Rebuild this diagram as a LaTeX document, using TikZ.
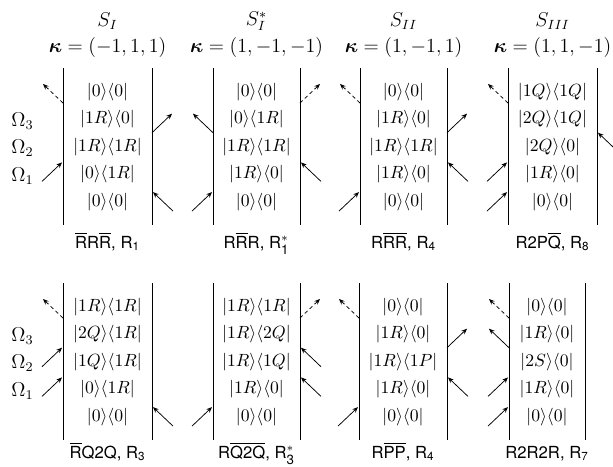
\documentclass[tikz,border=0pt]{standalone}
\usepackage{amsmath}
\usepackage{fontspec}
\newfontfamily\etiqfont{TeX Gyre Heros}
\usetikzlibrary{arrows.meta, calc}

\newcommand{\kb}[2]{|#1\rangle\langle #2|}
\newcommand{\barra}[1]{$\overline{\hbox{#1}}$}
\newcommand{\niveles}[6]{%
  \foreach \s [count=\i] in {#2,#3,#4,#5,#6}
    \node[estado] (#1s\i) at ($(l#1)!0.5!(r#1)+(0,-3.5+27.5*\i)$) {$\s$};}

\begin{document}
\begin{tikzpicture}[
    x=0.6pt, y=-0.6pt,
    estado/.style={inner sep=0pt, scale=1.06},
    titulo/.style={font=\large, inner sep=0pt},
    etiq/.style={font=\normalsize\etiqfont, inner sep=0pt, anchor=base},
    pared/.style={line width=0.5pt},
    bomba/.style={-{Stealth[length=3.4pt, width=2.8pt]}, line width=0.45pt},
    fuga/.style={bomba, dash pattern=on 2.2pt off 1.8pt}
  ]
  \useasboundingbox (0,0) rectangle (613,466);

  % --- Paredes ---
  \foreach \p/\xl/\xr/\yo in {t1/63/152/0, t2/213/300/0, t3/360/447/0, t4/508/597/0,
                             b1/63/152/215, b2/213/300/215, b3/359/447/215, b4/509/585/215} {
    \coordinate (l\p) at (\xl,68+\yo);
    \coordinate (r\p) at (\xr,68+\yo);
    \draw[pared] (l\p) -- ++(0,157);
    \draw[pared] (r\p) -- ++(0,157);
  }

  % --- Titulos ---
  \foreach \p/\s/\k in {t1/S_I/{(-1,1,1)}, t2/S_I^*/{(1,-1,-1)},
                        t3/S_{II}/{(1,-1,1)}, t4/S_{III}/{(1,1,-1)}} {
    \node[titulo] (s\p) at ($(l\p)!0.5!(r\p)+(0,-47)$) {$\s$};
    \node[titulo] (k\p) at ($(l\p)!0.5!(r\p)+(0,-21)$) {$\boldsymbol{\kappa}=\k$};
  }

  % --- Niveles ---
  \niveles{t1}{\kb{0}{0}}{\kb{1R}{0}}{\kb{1R}{1R}}{\kb{0}{1R}}{\kb{0}{0}}
  \niveles{t2}{\kb{0}{0}}{\kb{0}{1R}}{\kb{1R}{1R}}{\kb{1R}{0}}{\kb{0}{0}}
  \niveles{t3}{\kb{0}{0}}{\kb{1R}{0}}{\kb{1R}{1R}}{\kb{1R}{0}}{\kb{0}{0}}
  \niveles{t4}{\kb{1Q}{1Q}}{\kb{2Q}{1Q}}{\kb{2Q}{0}}{\kb{1R}{0}}{\kb{0}{0}}
  \niveles{b1}{\kb{1R}{1R}}{\kb{2Q}{1R}}{\kb{1Q}{1R}}{\kb{0}{1R}}{\kb{0}{0}}
  \niveles{b2}{\kb{1R}{1R}}{\kb{1R}{2Q}}{\kb{1R}{1Q}}{\kb{1R}{0}}{\kb{0}{0}}
  \niveles{b3}{\kb{0}{0}}{\kb{1R}{0}}{\kb{1R}{1P}}{\kb{1R}{0}}{\kb{0}{0}}
  \niveles{b4}{\kb{0}{0}}{\kb{1R}{0}}{\kb{2S}{0}}{\kb{1R}{0}}{\kb{0}{0}}

  % --- Campos ---
  \foreach \p in {t1,b1} {
    \node[titulo] (w3\p) at ($(\p s2)+(-85,1.5)$) {$\Omega_3$};
    \node[titulo] (w2\p) at ($(\p s3)+(-85,1.5)$) {$\Omega_2$};
    \node[titulo] (w1\p) at ($(\p s4)+(-85,1.5)$) {$\Omega_1$};
  }

  % --- Etiquetas ---
  \node[etiq] (et1) at ($(lt1)!0.5!(rt1)+(0,180)$) {\barra{R}R\barra{R}, R\textsubscript{1}};
  \node[etiq] (et2) at ($(lt2)!0.5!(rt2)+(0,180)$) {R\barra{R}R, R$^{*}_{\hbox{\footnotesize 1}}$};
  \node[etiq] (et3) at ($(lt3)!0.5!(rt3)+(0,180)$) {R\barra{R}\barra{R}, R\textsubscript{4}};
  \node[etiq] (et4) at ($(lt4)!0.5!(rt4)+(0,180)$) {R2P\barra{Q}, R\textsubscript{8}};
  \node[etiq] (eb1) at ($(lb1)!0.5!(rb1)+(0,175)$) {\barra{R}Q2Q, R\textsubscript{3}};
  \node[etiq] (eb2) at ($(lb2)!0.5!(rb2)+(0,175)$) {R\barra{Q}\barra{2Q}, R$^{*}_{\hbox{\footnotesize 3}}$};
  \node[etiq] (eb3) at ($(lb3)!0.5!(rb3)+(0,175)$) {R\barra{P}\barra{P}, R\textsubscript{4}};
  \node[etiq] (eb4) at ($(lb4)!0.5!(rb4)+(0,175)$) {R2R2R, R\textsubscript{7}};

  % --- Flechas que salen de la pared ---
  \foreach \w/\d/\k/\st in {lt1/-1/1/fuga, rt1/1/2/bomba, lt2/-1/2/bomba, rt2/1/1/fuga,
                            lt3/-1/1/fuga, rt3/1/2/bomba, lt4/-1/1/fuga,
                            lb1/-1/1/fuga, rb2/1/1/fuga, lb3/-1/1/fuga, rb3/1/2/bomba,
                            lb4/-1/1/fuga, lb4/-1/2/bomba}
    \draw[\st] ($(\w)+(0,5.3+29.7*\k)$) -- ++(20*\d,-19);

  % --- Flechas que llegan a la pared ---
  \foreach \w/\d/\k in {lt1/-1/3, rt1/1/4, lt2/-1/4, rt2/1/3, lt3/-1/4, rt3/1/3,
                        lt4/-1/3, lt4/-1/4, rt4/1/2,
                        lb1/-1/2, lb1/-1/3, rb1/1/4, lb2/-1/4, rb2/1/2, rb2/1/3,
                        lb3/-1/4, rb3/1/3, lb4/-1/3, lb4/-1/4}
    \draw[bomba] ($(\w)+(21*\d,24.3+29.7*\k)$) -- ++(-20*\d,-19);

\end{tikzpicture}
\end{document}
